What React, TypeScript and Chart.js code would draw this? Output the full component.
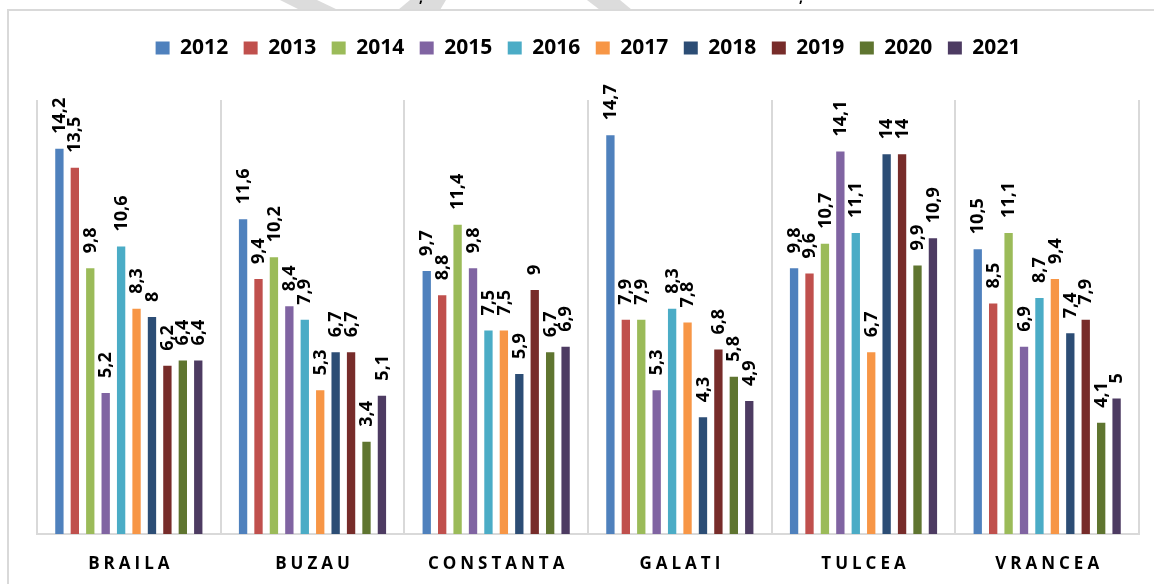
import React, { useEffect, useRef } from "react";
import { Chart, registerables } from "chart.js";

Chart.register(...registerables);

const categories = ["BRAILA", "BUZAU", "CONSTANTA", "GALATI", "TULCEA", "VRANCEA"];
const years = ["2012", "2013", "2014", "2015", "2016", "2017", "2018", "2019", "2020", "2021"];

const y2012 = [14.2, 11.6, 9.7, 14.7, 9.8, 10.5];
const y2013 = [13.5, 9.4, 8.8, 7.9, 9.6, 8.5];
const y2014 = [9.8, 10.2, 11.4, 7.9, 10.7, 11.1];
const y2015 = [5.2, 8.4, 9.8, 5.3, 14.1, 6.9];
const y2016 = [10.6, 7.9, 7.5, 8.3, 11.1, 8.7];
const y2017 = [8.3, 5.3, 7.5, 7.8, 6.7, 9.4];
const y2018 = [8, 6.7, 5.9, 4.3, 14, 7.4];
const y2019 = [6.2, 6.7, 9, 6.8, 14, 7.9];
const y2020 = [6.4, 3.4, 6.7, 5.8, 9.9, 4.1];
const y2021 = [6.4, 5.1, 6.9, 4.9, 10.9, 5];

const seriesValues = [y2012, y2013, y2014, y2015, y2016, y2017, y2018, y2019, y2020, y2021];
const seriesColors = [
  "#4F81BD", "#C0504D", "#9BBB59", "#8064A2", "#4BACC6",
  "#F79646", "#2C4D75", "#772C2A", "#5F7530", "#4D3B62",
];
const yMin = 0;
const yMax = 16;

const FONT = "'Open Sans', 'DejaVu Sans', sans-serif";

const backgroundPlugin = {
  id: "bgFrame",
  beforeDraw(chart: any) {
    const ctx = chart.ctx;
    ctx.save();
    ctx.fillStyle = "#ffffff";
    ctx.fillRect(0, 0, chart.width, chart.height);
    ctx.fillStyle = "#dcdcdc";
    const quads = [
      [280, 317, 300, 338],
      [410, 446, 398, 440],
      [587, 620, 600, 632],
    ];
    quads.forEach(([a, b, c, d]) => {
      ctx.beginPath();
      ctx.moveTo(a, 0);
      ctx.lineTo(b, 0);
      ctx.lineTo(d, 10);
      ctx.lineTo(c, 10);
      ctx.closePath();
      ctx.fill();
    });
    ctx.fillStyle = "#000";
    ctx.font = `bold 14px ${FONT}`;
    ctx.textAlign = "center";
    ctx.textBaseline = "alphabetic";
    ctx.fillText(",", 421, 2);
    ctx.fillText(",", 801, 2);
    ctx.strokeStyle = "#d9d9d9";
    ctx.lineWidth = 2;
    ctx.beginPath();
    ctx.moveTo(8, chart.height + 5);
    ctx.lineTo(8, 10);
    ctx.lineTo(chart.width + 5, 10);
    ctx.stroke();
    ctx.restore();
  },
};

const legendSpacer = {
  id: "legendSpacer",
  beforeInit(chart: any) {
    const legend = chart.legend;
    if (!legend) return;
    const orig = legend.fit;
    legend.fit = function () {
      orig.call(this);
      this.height += 31.5;
    };
  },
};

const xLabelSpacing = {
  id: "xLabelSpacing",
  afterLayout(chart: any) {
    const sc = chart.scales.x;
    if (!sc || sc.__patched) return;
    const orig = sc.drawLabels;
    sc.drawLabels = function (area: any) {
      const ctx = chart.ctx;
      ctx.save();
      (ctx as any).letterSpacing = "4px";
      ctx.translate(2, 0);
      orig.call(this, area);
      ctx.restore();
    };
    sc.__patched = true;
  },
};

const valueLabels = {
  id: "valueLabels",
  afterDatasetsDraw(chart: any) {
    const ctx = chart.ctx;
    ctx.save();
    ctx.font = `bold 18px ${FONT}`;
    ctx.fillStyle = "#000";
    ctx.textAlign = "left";
    ctx.textBaseline = "middle";
    chart.data.datasets.forEach((ds: any, di: number) => {
      const meta = chart.getDatasetMeta(di);
      meta.data.forEach((bar: any, i: number) => {
        const v = ds.data[i];
        const txt = String(v).replace(".", ",");
        ctx.save();
        ctx.translate(bar.x + 0.5, bar.y - 15);
        ctx.rotate(-Math.PI / 2);
        ctx.fillText(txt, 0, 0);
        ctx.restore();
      });
    });
    ctx.restore();
  },
};

export default function App() {
  const canvasRef = useRef<HTMLCanvasElement | null>(null);

  useEffect(() => {
    if (!canvasRef.current) return;
    const chart = new Chart(canvasRef.current, {
      type: "bar",
      data: {
        labels: categories,
        datasets: years.map((yr, i) => ({
          label: yr,
          data: seriesValues[i],
          backgroundColor: seriesColors[i],
          borderWidth: 0,
          categoryPercentage: 0.84,
          barPercentage: 0.54,
        })),
      },
      options: {
        responsive: false,
        animation: false,
        layout: { padding: { top: 22, left: 37, right: 15, bottom: 0 } },
        plugins: {
          legend: {
            position: "top",
            labels: {
              boxWidth: 14,
              boxHeight: 13,
              padding: 15.5,
              color: "#000",
              font: { family: FONT, size: 21, weight: "bold" },
            },
          },
          tooltip: { enabled: false },
          title: { display: false },
        },
        scales: {
          x: {
            grid: {
              display: true,
              offset: true,
              color: "#d9d9d9",
              lineWidth: 2,
              drawTicks: false,
            },
            border: { display: true, color: "#d9d9d9", width: 2 },
            ticks: {
              padding: 19.5,
              color: "#000",
              font: { family: FONT, size: 17, weight: "bold" },
              maxRotation: 0,
              autoSkip: false,
            },
            afterFit: (scale: any) => {
              scale.height = 50;
            },
          },
          y: {
            display: false,
            min: yMin,
            max: yMax,
            grid: { display: false },
          },
        },
      },
      plugins: [backgroundPlugin, legendSpacer, xLabelSpacing, valueLabels],
    });
    return () => chart.destroy();
  }, []);

  return (
    <div style={{ position: "fixed", left: 0, top: 0, width: 1154, height: 584, background: "#fff" }}>
      <canvas ref={canvasRef} width={1154} height={584} style={{ display: "block" }} />
    </div>
  );
}
